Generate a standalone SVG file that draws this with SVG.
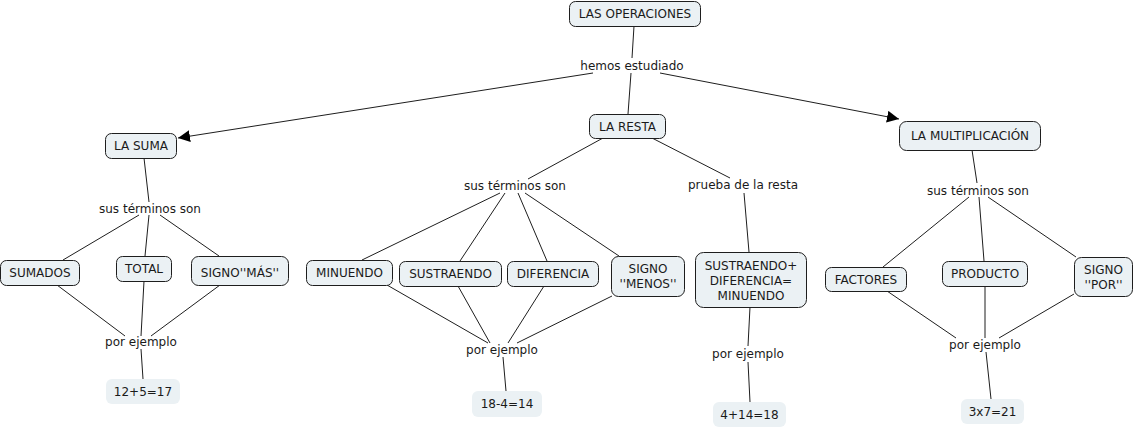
<svg xmlns="http://www.w3.org/2000/svg" width="1134" height="429" viewBox="0 0 1134 429">
<style>
.n rect{fill:#ebf1f4;stroke:#1e1e1e;stroke-width:1}
.e rect{fill:#ebf1f4;stroke:none}
text{font-family:"DejaVu Sans",Verdana,sans-serif;font-size:12px;fill:#1a1a1a;text-anchor:middle}
.c line{stroke:#1e1e1e;stroke-width:1;fill:none}
.l rect{fill:#fff}
</style>
<defs>
<marker id="ah" viewBox="0 0 10 10" refX="10" refY="5" markerWidth="12" markerHeight="12" markerUnits="userSpaceOnUse" orient="auto">
<path d="M0,0 L10,5 L0,10 z" fill="#000"/>
</marker>
</defs>
<rect width="1134" height="429" fill="#fff"/>
<g id="connectors" class="c">
<line x1="634" y1="26" x2="632" y2="58"/>
<line x1="631" y1="73" x2="628" y2="114"/>
<line x1="593" y1="73" x2="178" y2="138" marker-end="url(#ah)"/>
<line x1="660" y1="73" x2="899" y2="119" marker-end="url(#ah)"/>
<line x1="144" y1="158" x2="149" y2="202"/>
<line x1="139" y1="215" x2="63" y2="260"/>
<line x1="149" y1="215" x2="145" y2="256"/>
<line x1="160" y1="215" x2="219" y2="256"/>
<line x1="57" y1="285" x2="125" y2="336"/>
<line x1="144" y1="281" x2="141" y2="336"/>
<line x1="220" y1="285" x2="151" y2="336"/>
<line x1="141" y1="349" x2="143" y2="379"/>
<line x1="603" y1="138" x2="528" y2="179"/>
<line x1="652" y1="138" x2="730" y2="178"/>
<line x1="500" y1="193" x2="362" y2="260"/>
<line x1="505" y1="193" x2="460" y2="261"/>
<line x1="518" y1="193" x2="547" y2="261"/>
<line x1="525" y1="193" x2="619" y2="256"/>
<line x1="387" y1="285" x2="488" y2="343"/>
<line x1="458" y1="286" x2="490" y2="343"/>
<line x1="544" y1="286" x2="508" y2="343"/>
<line x1="612" y1="296" x2="517" y2="343"/>
<line x1="503" y1="357" x2="506" y2="391"/>
<line x1="744" y1="193" x2="749" y2="252"/>
<line x1="750" y1="307" x2="748" y2="346"/>
<line x1="748" y1="362" x2="750" y2="402"/>
<line x1="972" y1="150" x2="977" y2="183"/>
<line x1="969" y1="197" x2="883" y2="267"/>
<line x1="979" y1="197" x2="984" y2="261"/>
<line x1="988" y1="197" x2="1076" y2="257"/>
<line x1="887" y1="291" x2="956" y2="338"/>
<line x1="985" y1="286" x2="985" y2="338"/>
<line x1="1074" y1="294" x2="999" y2="338"/>
<line x1="986" y1="352" x2="991" y2="399"/>
</g>
<g id="lp-hemos"><text x="632" y="70">hemos estudiado</text></g>
<g id="lp-suma-terminos"><text x="150" y="213">sus términos son</text></g>
<g id="lp-suma-ejemplo"><text x="141" y="346">por ejemplo</text></g>
<g id="lp-resta-terminos"><text x="515" y="190">sus términos son</text></g>
<g id="lp-prueba"><text x="743" y="189">prueba de la resta</text></g>
<g id="lp-resta-ejemplo"><text x="502" y="354">por ejemplo</text></g>
<g id="lp-prueba-ejemplo"><text x="748" y="358">por ejemplo</text></g>
<g id="lp-mult-terminos"><text x="978" y="195">sus términos son</text></g>
<g id="lp-mult-ejemplo"><text x="985" y="349">por ejemplo</text></g>

<g id="n-operaciones" class="n"><rect x="569.5" y="1.5" width="131" height="25" rx="6"/><text x="635" y="18">LAS OPERACIONES</text></g>
<g id="n-suma" class="n"><rect x="105.5" y="133.5" width="71" height="25" rx="6"/><text x="141" y="150">LA SUMA</text></g>
<g id="n-resta" class="n"><rect x="589.5" y="114.5" width="76" height="24" rx="6"/><text x="627.5" y="131">LA RESTA</text></g>
<g id="n-mult" class="n"><rect x="899.5" y="121.5" width="141" height="29" rx="7"/><text x="970" y="140">LA MULTIPLICACIÓN</text></g>
<g id="n-sumados" class="n"><rect x="0.5" y="260.5" width="79" height="25" rx="6"/><text x="40" y="277">SUMADOS</text></g>
<g id="n-total" class="n"><rect x="116.5" y="256.5" width="55" height="25" rx="6"/><text x="144" y="273">TOTAL</text></g>
<g id="n-signomas" class="n"><rect x="191.5" y="256.5" width="97" height="29" rx="7"/><text x="240" y="277">SIGNO''MÁS''</text></g>
<g id="n-minuendo" class="n"><rect x="306.5" y="260.5" width="86" height="25" rx="6"/><text x="349.5" y="277">MINUENDO</text></g>
<g id="n-sustraendo" class="n"><rect x="399.5" y="261.5" width="102" height="25" rx="6"/><text x="450.5" y="278">SUSTRAENDO</text></g>
<g id="n-diferencia" class="n"><rect x="507.5" y="261.5" width="91" height="25" rx="6"/><text x="553" y="278">DIFERENCIA</text></g>
<g id="n-signomenos" class="n"><rect x="611.5" y="256.5" width="73" height="40" rx="7"/><text x="648" y="273">SIGNO</text><text x="648" y="288">''MENOS''</text></g>
<g id="n-prueba" class="n"><rect x="695.5" y="252.5" width="111" height="55" rx="8"/><text x="751" y="270">SUSTRAENDO+</text><text x="751" y="285">DIFERENCIA=</text><text x="751" y="300">MINUENDO</text></g>
<g id="n-factores" class="n"><rect x="825.5" y="267.5" width="81" height="24" rx="6"/><text x="866" y="284">FACTORES</text></g>
<g id="n-producto" class="n"><rect x="942.5" y="261.5" width="85" height="25" rx="6"/><text x="985" y="278">PRODUCTO</text></g>
<g id="n-signopor" class="n"><rect x="1074.5" y="257.5" width="58" height="39" rx="7"/><text x="1103.5" y="274">SIGNO</text><text x="1103.5" y="289">''POR''</text></g>
<g id="n-ej-suma" class="e"><rect x="106" y="379" width="74" height="25" rx="6"/><text x="143" y="396">12+5=17</text></g>
<g id="n-ej-resta" class="e"><rect x="472" y="391" width="70" height="26" rx="6"/><text x="507" y="408">18-4=14</text></g>
<g id="n-ej-prueba" class="e"><rect x="713" y="402" width="73" height="25" rx="6"/><text x="749.5" y="419">4+14=18</text></g>
<g id="n-ej-mult" class="e"><rect x="961" y="399" width="63" height="25" rx="6"/><text x="992.5" y="416">3x7=21</text></g>
</svg>
